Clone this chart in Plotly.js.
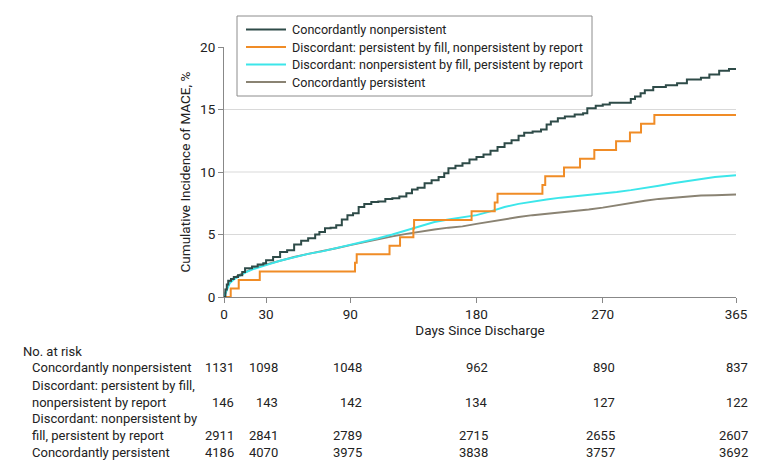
<!DOCTYPE html>
<html>
<head>
<meta charset="utf-8">
<script src="https://cdn.plot.ly/plotly-3.0.1.min.js"></script>
<style>
  body { margin: 0; background: #fff; }
  #chart { width: 780px; height: 472px; }
</style>
</head>
<body>
<div id="chart"></div>
<script>
// Curvas de incidência cumulativa de MACE
const daysNonpers = [0, 1, 2, 3, 5, 7, 10, 13, 15, 20, 24, 28, 30, 35, 40, 45, 50, 55, 60, 65, 68, 72, 76, 80, 84, 88, 92, 96, 100, 105, 110, 115, 120, 125, 130, 134, 138, 143, 148, 153, 157, 160, 165, 170, 175, 180, 185, 190, 195, 200, 205, 210, 214, 220, 226, 230, 233, 238, 243, 250, 256, 259, 265, 270, 275, 288, 290, 293, 297, 300, 306, 315, 323, 330, 340, 346, 353, 360, 365];
const incNonpers = [0, 0.6, 1.0, 1.3, 1.45, 1.6, 1.75, 2.0, 2.3, 2.45, 2.6, 2.7, 2.95, 3.2, 3.6, 3.75, 4.2, 4.5, 4.7, 5.0, 5.2, 5.5, 5.55, 5.75, 6.2, 6.55, 6.7, 7.2, 7.45, 7.6, 7.65, 7.85, 7.9, 8.05, 8.3, 8.6, 8.75, 9.1, 9.35, 9.6, 9.9, 10.3, 10.5, 10.7, 11.0, 11.2, 11.4, 11.7, 12.0, 12.3, 12.55, 12.9, 13.15, 13.25, 13.4, 13.8, 14.05, 14.3, 14.45, 14.6, 14.7, 15.1, 15.3, 15.4, 15.55, 15.55, 15.85, 16.05, 16.3, 16.55, 16.8, 16.95, 17.1, 17.4, 17.55, 17.8, 18.1, 18.25, 18.3];

const daysPersFill = [0, 4.8, 10.5, 25.5, 93.4, 94.6, 118, 125.5, 135, 135.5, 176.5, 193, 195, 227, 229, 242.4, 253.8, 264, 279.5, 289.4, 297.3, 306.8, 365];
const incPersFill = [0, 0.68, 1.37, 2.05, 2.74, 3.42, 4.11, 4.79, 5.48, 6.17, 6.86, 7.56, 8.26, 8.96, 9.66, 10.36, 11.06, 11.76, 12.46, 13.16, 13.86, 14.56, 14.56];

const daysSmooth = [0, 2, 4, 7, 10, 15, 20, 25, 30, 40, 50, 60, 70, 80, 90, 100, 110, 120, 130, 140, 150, 160, 170, 180, 190, 200, 210, 220, 230, 240, 250, 260, 270, 280, 290, 300, 310, 320, 330, 340, 350, 365];
const incNonpersFill = [0, 0.6, 1.1, 1.4, 1.6, 1.95, 2.2, 2.4, 2.55, 2.9, 3.2, 3.45, 3.65, 3.9, 4.2, 4.45, 4.7, 5.0, 5.35, 5.7, 6.0, 6.2, 6.35, 6.55, 6.85, 7.2, 7.45, 7.65, 7.8, 7.95, 8.05, 8.15, 8.25, 8.4, 8.55, 8.7, 8.9, 9.1, 9.25, 9.45, 9.6, 9.75];
const incPers = [0, 0.7, 1.2, 1.5, 1.7, 2.0, 2.25, 2.45, 2.6, 2.95, 3.2, 3.45, 3.65, 3.9, 4.15, 4.4, 4.65, 4.85, 5.05, 5.25, 5.4, 5.55, 5.65, 5.85, 6.05, 6.2, 6.4, 6.55, 6.65, 6.8, 6.9, 7.0, 7.15, 7.35, 7.55, 7.7, 7.85, 7.95, 8.05, 8.12, 8.15, 8.2];

// Tabela "No. at risk"
const riskDays = [0, 30, 90, 180, 270, 365];
const riskNonpers = [1131, 1098, 1048, 962, 890, 837];
const riskPersFill = [146, 143, 142, 134, 127, 122];
const riskNonpersFill = [2911, 2841, 2789, 2715, 2655, 2607];
const riskPers = [4186, 4070, 3975, 3838, 3757, 3692];
const rowLabels = ['Concordantly nonpersistent', 'Discordant: persistent by fill,<br>nonpersistent by report', 'Discordant: nonpersistent by<br>fill, persistent by report', 'Concordantly persistent'];

const legendNames = ['Concordantly nonpersistent', 'Discordant: persistent by fill, nonpersistent by report', 'Discordant: nonpersistent by fill, persistent by report', 'Concordantly persistent'];
const colors = ['#2e4b48', '#f08c26', '#3ce6ea', '#8a8373'];

const FONT = 'Roboto, Arial, sans-serif';
const TXT = '#222';

// pixels -> coordenadas "paper" (área do gráfico: x de 224 a 736, y de 47 a 297)
function px(p) { return (p - 224) / 512; }
function py(p) { return (297 - p) / 250; }

// desenha cinza primeiro, escuro por cima
const traces = [{
    x: daysSmooth, y: incPers, name: legendNames[3],
    mode: 'lines', line: {color: colors[3], width: 2}
}, {
    x: daysSmooth, y: incNonpersFill, name: legendNames[2],
    mode: 'lines', line: {color: colors[2], width: 2}
}, {
    x: daysPersFill, y: incPersFill, name: legendNames[1],
    mode: 'lines', line: {color: colors[1], width: 2, shape: 'hv'}
}, {
    x: daysNonpers, y: incNonpers, name: legendNames[0],
    mode: 'lines', line: {color: colors[0], width: 2, shape: 'hv'}
}];

const annotations = [];
const shapes = [];

// linhas de grade (sem a de 20, escondida no original)
[5, 10, 15].forEach(g => shapes.push({
    type: 'line', xref: 'paper', yref: 'y', x0: 0, x1: 1, y0: g, y1: g,
    line: {color: '#d9d9d9', width: 1}, layer: 'below'
}));

// legenda em caixa
shapes.push({
    type: 'rect', xref: 'paper', yref: 'paper', x0: px(237), x1: px(592), y0: py(96), y1: py(16),
    fillcolor: '#fff', line: {color: '#8c8c8c', width: 1}, layer: 'above'
});
const legendY = [29.5, 47, 64.5, 82];
legendNames.forEach((name, i) => {
    shapes.push({
        type: 'line', xref: 'paper', yref: 'paper', x0: px(246), x1: px(286), y0: py(legendY[i]), y1: py(legendY[i]),
        line: {color: colors[i], width: 2}, layer: 'above'
    });
    annotations.push({
        text: name, xref: 'paper', yref: 'paper', x: px(290), y: py(legendY[i]),
        xanchor: 'left', yanchor: 'middle', showarrow: false, font: {family: FONT, size: 12.6, color: TXT}
    });
});

annotations.push({
    text: 'No. at risk', xref: 'paper', yref: 'paper', x: px(21), y: py(351),
    xanchor: 'left', yanchor: 'middle', showarrow: false, font: {family: FONT, size: 13, color: TXT}
});
const rowY = [367, 393.5, 427, 452];
const numY = [367, 402, 435, 452];
const rows = [riskNonpers, riskPersFill, riskNonpersFill, riskPers];
rows.forEach((vals, r) => {
    annotations.push({
        text: rowLabels[r], xref: 'paper', yref: 'paper', x: px(30), y: py(rowY[r]),
        xanchor: 'left', yanchor: 'middle', align: 'left', showarrow: false,
        font: {family: FONT, size: 13, color: TXT}
    });
    vals.forEach((v, i) => {
        annotations.push({
            text: String(v), xref: 'x', yref: 'paper', x: riskDays[i], y: py(numY[r]),
            xanchor: 'right', xshift: i === 0 ? 12 : 14, yanchor: 'middle', showarrow: false,
            font: {family: FONT, size: 13, color: TXT}
        });
    });
});

Plotly.newPlot('chart', traces, {
    width: 780, height: 472,
    margin: {l: 224, r: 44, t: 47, b: 175},
    paper_bgcolor: '#fff', plot_bgcolor: '#fff',
    font: {family: FONT, size: 13, color: TXT},
    showlegend: false,
    xaxis: {
        range: [0, 365], tickvals: riskDays, ticks: 'outside', ticklen: 5, tickcolor: '#888',
        showline: true, linecolor: '#888', showgrid: false, zeroline: false,
        tickfont: {family: FONT, size: 13.5, color: TXT},
        title: {text: 'Days Since Discharge', font: {family: FONT, size: 13.5, color: TXT}, standoff: 2}
    },
    yaxis: {
        range: [0, 20], tickvals: [0, 5, 10, 15, 20], ticks: 'outside', ticklen: 5, tickcolor: '#888',
        showline: true, linecolor: '#888', showgrid: false, zeroline: false,
        tickfont: {family: FONT, size: 13.5, color: TXT},
        title: {text: 'Cumulative Incidence of MACE, %', font: {family: FONT, size: 13.5, color: TXT}, standoff: 6}
    },
    shapes: shapes,
    annotations: annotations
}, {displayModeBar: false, staticPlot: true});
</script>
</body>
</html>
